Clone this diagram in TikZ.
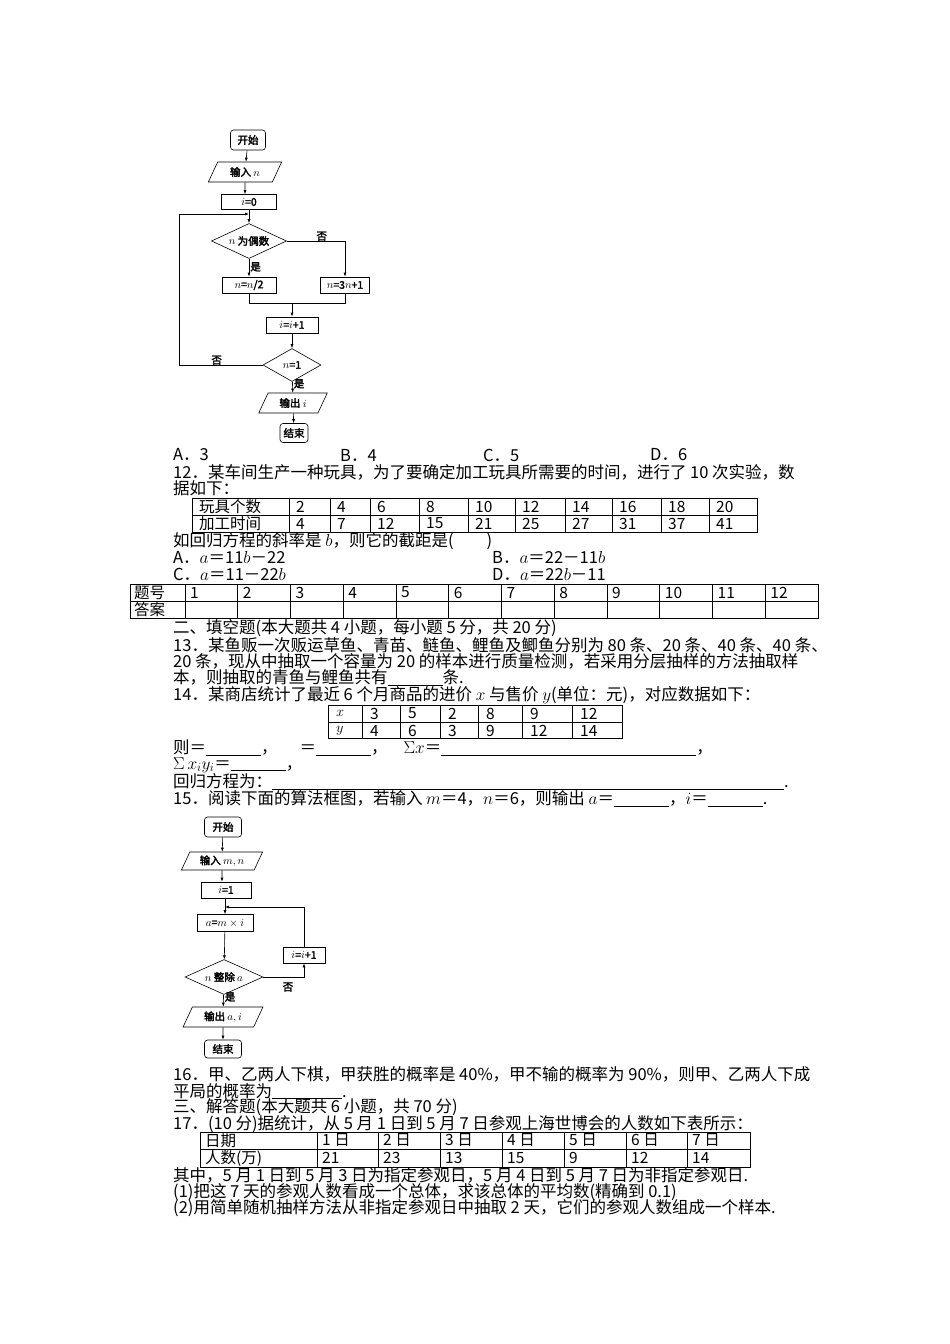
\documentclass[tikz,border=0pt]{standalone}
\usepackage{fontspec}
\setmainfont{Noto Sans CJK SC}[AutoFakeBold=2.5]
\usetikzlibrary{shapes.geometric,arrows.meta}
\newcommand{\blk}[1]{\underline{\hspace{#1pt}}}
\tikzset{
 txt/.style={anchor=west,inner sep=0pt,font=\fontsize{16.5}{17}\selectfont},
 cell/.style={anchor=west,inner sep=0pt,font=\fontsize{15.5}{16}\selectfont},
 fc/.style={draw,line width=0.6pt,font=\fontsize{10.5}{11}\selectfont\bfseries,inner sep=1pt},
 term/.style={fc,rounded corners=3pt},
 proc/.style={fc,rectangle},
 io/.style={fc,trapezium,trapezium left angle=65,trapezium right angle=115},
 dec/.style={fc,diamond,aspect=2.2,inner sep=0pt},
 ar/.style={-{Latex[length=4pt,width=3pt]},line width=0.6pt},
 ln/.style={line width=0.6pt},
 lab/.style={font=\fontsize{10.5}{11}\selectfont\bfseries,inner sep=0pt},
 tb/.style={line width=0.8pt}
}
\begin{document}
\begin{tikzpicture}[x=1pt,y=-1pt]
\useasboundingbox (0,0) rectangle (950,1344);
% ---------- flowchart 1
\node[term,minimum width=35pt,minimum height=20pt] (s1) at (248,140) {开始};
\node[io,minimum width=60pt,minimum height=20pt] (in1) at (245,172) {输入 $n$};
\node[proc,minimum width=55pt,minimum height=15pt] (i0) at (249,202) {$i$=0};
\node[dec,minimum width=75pt,minimum height=35pt] (d1) at (249,241) {$n$ 为偶数};
\node[proc,minimum width=54pt,minimum height=16pt] (h) at (249,285) {$n$=$n$/2};
\node[proc,minimum width=49pt,minimum height=16pt] (t) at (345,285) {$n$=3$n$+1};
\node[proc,minimum width=52pt,minimum height=16pt] (inc) at (292,325) {$i$=$i$+1};
\node[dec,minimum width=58pt,minimum height=33pt] (d2) at (292,365) {$n$=1};
\node[io,minimum width=55pt,minimum height=20pt] (out1) at (293,403) {输出 $i$};
\node[term,minimum width=28pt,minimum height=19pt] (e1) at (294,433) {结束};
\coordinate (j1) at (249,214);
\coordinate (m1) at (292,303);
\draw[ar] (s1) -- (in1);
\draw[ar] (in1) -- (i0.north west -| in1);
\draw[ln] (i0) -- (j1);
\draw[ar] (j1) -- (d1);
\draw[ar] (d1) -- node[lab,right,pos=0.45,xshift=1pt]{是} (h);
\draw[ar] (d1.east) -| node[lab,above,pos=0.3]{否} (t.north);
\draw[ln] (h.south) |- (m1);
\draw[ln] (t.south) |- (m1);
\draw[ar] (m1) -- (inc);
\draw[ar] (inc) -- (d2);
\draw[ar] (d2) -- node[lab,right,pos=0.2,xshift=1pt]{是} (out1);
\draw[ar] (out1) -- (e1);
\draw[ar] (d2.west) -- node[lab,above,pos=0.55]{否} (179,365) -- (179,214) -- (j1);
% ---------- answer options 11
\node[txt] (a11) at (173,455) {A．3};
\node[txt] (b11) at (340,455) {B．4};
\node[txt] (c11) at (483,455) {C．5};
\node[txt] (d11) at (650,455) {D．6};
\node[txt] (q12) at (173,472) {12．某车间生产一种玩具，为了要确定加工玩具所需要的时间，进行了 10 次实验，数};
\node[txt] (q12b) at (173,488) {据如下：};
% table 1
\draw[tb] (192,498) rectangle (757,532);
\draw[tb] (192,515) -- (757,515);
\foreach \x in {289,330,370,419,468,515,565,612,661,709} \draw[tb] (\x,498) -- (\x,532);
\foreach \x/\a/\b [count=\k] in {192/玩具个数/加工时间,289/2/4,330/4/7,370/6/12,419/8/15,468/10/21,515/12/25,565/14/27,612/16/31,661/18/37,709/20/41}{
 \node[cell] (ta\k) at (\x+7,506.5) {\a};
 \node[cell] (tb\k) at (\x+7,523.5) {\b};}
\node[txt] (q12c) at (173,541) {如回归方程的斜率是 $b$，则它的截距是(　　)};
\node[txt] (o1) at (173,557) {A．$a$＝11$b$－22};
\node[txt] (o2) at (492,557) {B．$a$＝22－11$b$};
\node[txt] (o3) at (173,574) {C．$a$＝11－22$b$};
\node[txt] (o4) at (492,574) {D．$a$＝22$b$－11};
% answer table
\draw[tb] (130,584) rectangle (818,618);
\draw[tb] (130,601) -- (818,601);
\foreach \i in {0,...,11} \draw[tb] ({185+\i*52.75},584) -- ({185+\i*52.75},618);
\node[cell] (th) at (134,592.5) {题号};
\node[cell] (ta) at (134,609.5) {答案};
\foreach \i in {1,...,12} \node[cell] (n\i) at ({185+(\i-1)*52.75+5},592.5) {\i};
\node[txt] (s2) at (173,628) {二、填空题(本大题共 4 小题，每小题 5 分，共 20 分)};
\node[txt] (q13a) at (173,645) {13．某鱼贩一次贩运草鱼、青苗、鲢鱼、鲤鱼及鲫鱼分别为 80 条、20 条、40 条、40 条、};
\node[txt] (q13b) at (173,661) {20 条，现从中抽取一个容量为 20 的样本进行质量检测，若采用分层抽样的方法抽取样};
\node[txt] (q13c) at (173,678) {本，则抽取的青鱼与鲤鱼共有\blk{55}条.};
\node[txt] (q14) at (173,695) {14．某商店统计了最近 6 个月商品的进价 $x$ 与售价 $y$(单位：元)，对应数据如下：};
% table 2
\draw[tb] (328,705) rectangle (622,738);
\draw[tb] (328,722) -- (622,722);
\foreach \x in {362,400,440,478,522,572} \draw[tb] (\x,705) -- (\x,738);
\foreach \x/\a/\b [count=\k] in {328/$x$/$y$,362/3/4,400/5/6,440/2/3,478/8/9,522/9/12,572/12/14}{
 \node[cell] (ua\k) at (\x+8,713.5) {\a};
 \node[cell] (ub\k) at (\x+8,730.5) {\b};}
\node[txt] (l14a) at (173,748) {则＝\blk{55}，\hspace{22pt}＝\blk{55}，\hspace{16pt}$\Sigma x$＝\blk{255}，};
\node[txt] (l14b) at (173,765) {$\Sigma\, x_iy_i$＝\blk{55}，};
\node[txt] (l14c) at (173,782) {回归方程为：\blk{512}.};
\node[txt] (q15) at (173,799) {15．阅读下面的算法框图，若输入 $m$＝4，$n$＝6，则输出 $a$＝\blk{55}，$i$＝\blk{55}.};
% ---------- flowchart 2
\node[term,minimum width=37pt,minimum height=20pt] (s2f) at (223,827) {开始};
\node[io,minimum width=66pt,minimum height=18pt] (in2) at (222,861) {输入 $m,n$};
\node[proc,minimum width=50pt,minimum height=16pt] (i1) at (226,890) {$i$=1};
\node[proc,minimum width=56pt,minimum height=17pt] (am) at (225,923) {$a$=$m\times i$};
\node[dec,minimum width=78pt,minimum height=35pt] (d3) at (224,977) {$n$ 整除 $a$};
\node[proc,minimum width=42pt,minimum height=16pt] (inc2) at (304,955) {$i$=$i$+1};
\node[io,minimum width=66pt,minimum height=20pt] (out2) at (223,1017) {输出 $a,i$};
\node[term,minimum width=37pt,minimum height=18pt] (e2) at (223,1049) {结束};
\coordinate (j2) at (225,907);
\draw[ar] (s2f) -- (in2);
\draw[ar] (in2) -- (i1.north -| in2);
\draw[ln] (i1.south -| j2) -- (j2);
\draw[ar] (j2) -- (am);
\draw[ar] (am) -- (d3);
\draw[ar] (d3.east) -| (inc2.south);
\node[lab] (no2) at (288,987) {否};
\draw[ar] (inc2.north) |- (j2);
\draw[ar] (d3) -- node[lab,right,pos=0.2,xshift=1pt]{是} (out2);
\draw[ar] (out2) -- (e2);
% ---------- 16, 17
\node[txt] (q16a) at (173,1074) {16．甲、乙两人下棋，甲获胜的概率是 40\%，甲不输的概率为 90\%，则甲、乙两人下成};
\node[txt] (q16b) at (173,1091) {平局的概率为\blk{70}.};
\node[txt] (s3) at (173,1107) {三、解答题(本大题共 6 小题，共 70 分)};
\node[txt] (q17) at (173,1124) {17．(10 分)据统计，从 5 月 1 日到 5 月 7 日参观上海世博会的人数如下表所示：};
\draw[tb] (200,1132) rectangle (750,1167);
\draw[tb] (200,1149) -- (750,1149);
\foreach \x in {317,378,440,502,564,626,687} \draw[tb] (\x,1132) -- (\x,1167);
\foreach \x/\a/\b [count=\k] in {200/日期/人数(万),317/1 日/21,378/2 日/23,440/3 日/13,502/4 日/15,564/5 日/9,626/6 日/12,687/7 日/14}{
 \node[cell] (va\k) at (\x+5,1140.5) {\a};
 \node[cell] (vb\k) at (\x+5,1158) {\b};}
\node[txt] (r1) at (173,1175) {其中，5 月 1 日到 5 月 3 日为指定参观日，5 月 4 日到 5 月 7 日为非指定参观日.};
\node[txt] (r2) at (173,1192) {(1)把这 7 天的参观人数看成一个总体，求该总体的平均数(精确到 0.1)};
\node[txt] (r3) at (173,1208) {(2)用简单随机抽样方法从非指定参观日中抽取 2 天，它们的参观人数组成一个样本.};
\end{tikzpicture}
\end{document}
